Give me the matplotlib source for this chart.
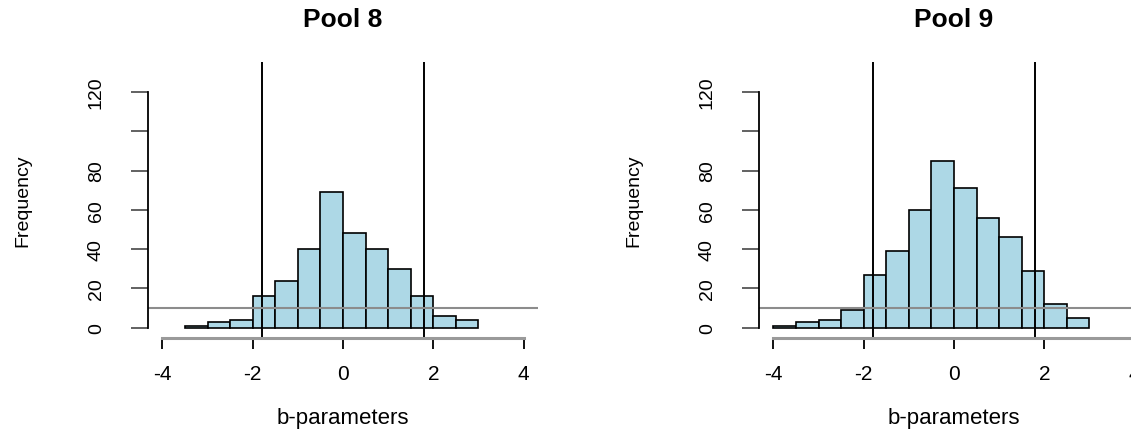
import numpy as np
import matplotlib
matplotlib.use("Agg")
import matplotlib.pyplot as plt

plt.rcParams['font.family'] = ['Liberation Sans', 'DejaVu Sans']

# histogram bins (b-parameter) and frequencies per pool
pool8_edges = [-3.5, -3.0, -2.5, -2.0, -1.5, -1.0, -0.5, 0.0, 0.5, 1.0, 1.5, 2.0, 2.5, 3.0]
pool8_counts = [1, 3, 4, 16, 24, 40, 69, 48, 40, 30, 16, 6, 4]

pool9_edges = [-4.0, -3.5, -3.0, -2.5, -2.0, -1.5, -1.0, -0.5, 0.0, 0.5, 1.0, 1.5, 2.0, 2.5, 3.0]
pool9_counts = [1, 3, 4, 9, 27, 39, 60, 85, 71, 56, 46, 29, 12, 5]

titles = ["Pool 8", "Pool 9"]
cutoffs = [-1.8, 1.8]
min_freq = 10
xticks = [-4, -2, 0, 2, 4]
yticks = [0, 20, 40, 60, 80, 100, 120]
ytick_labels = ["0", "20", "40", "60", "80", "", "120"]

W, H = 1131, 435
fig = plt.figure(figsize=(W / 100, H / 100), dpi=100)

ax_w, ax_h = 390 / W, 276 / H
bottom = 96 / H
lefts = [148 / W, 759 / W]

for left, title, edges, counts in zip(lefts, titles,
                                      [pool8_edges, pool9_edges],
                                      [pool8_counts, pool9_counts]):
    ax = fig.add_axes([left, bottom, ax_w, ax_h])
    ax.hist(edges[:-1], bins=edges, weights=counts,
            color='#ADD8E6', edgecolor='black', linewidth=1.2)
    for c in cutoffs:
        ax.axvline(c, color='black', lw=1.4)
    ax.axhline(min_freq, color='#8c8c8c', lw=1.5)

    ax.set_xlim(-4.32, 4.32)
    ax.set_ylim(-5.2, 135.2)

    for side in ['top', 'right']:
        ax.spines[side].set_visible(False)
    ax.spines['left'].set_bounds(0, 120)
    ax.spines['left'].set_linewidth(1.3)
    ax.spines['bottom'].set_bounds(-4, 4)
    ax.spines['bottom'].set_color('#9a9a9a')
    ax.spines['bottom'].set_linewidth(2.2)

    ax.set_xticks(xticks)
    ax.set_xticklabels([str(t) for t in xticks])
    ax.set_yticks(yticks)
    ax.set_yticklabels(ytick_labels, rotation=90, va='center')
    ax.tick_params(axis='x', length=8, width=1.3, pad=11, labelsize=15,
                   color='black')
    ax.tick_params(axis='y', length=12, width=1.3, pad=19, labelsize=14,
                   color='#555555')

    ax.set_xlabel("b-parameters", fontsize=16, va='center')
    ax.xaxis.set_label_coords(0.5, -80 / 276)
    ax.set_ylabel("Frequency", fontsize=14, va='center')
    ax.yaxis.set_label_coords(-125 / 390, 0.5)

    ax.set_title(title, fontsize=19, fontweight='bold', y=1 + 43 / 276,
                 pad=0, va='center')

fig.savefig("out.png", dpi=100)
